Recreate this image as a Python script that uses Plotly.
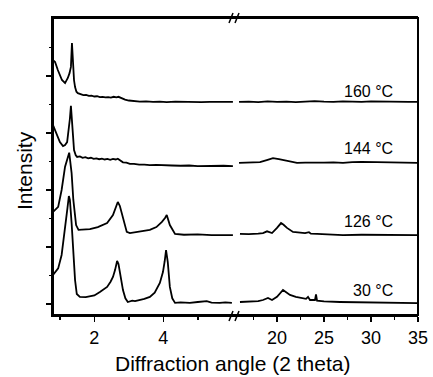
import plotly.graph_objects as go

# ---------------- data (2theta, intensity in offset arbitrary units) ----------------
x30L = [0.80,0.95,1.05,1.15,1.22,1.26,1.29,1.34,1.39,1.44,1.49,1.58,1.75,1.87,2.00,2.16,2.30,2.37,2.47,2.54,
        2.60,2.66,2.70,2.74,2.79,2.83,2.90,2.97,3.10,3.18,3.30,3.45,3.61,3.75,3.90,3.99,4.04,4.08,4.13,4.19,
        4.26,4.34,4.50,4.77,5.00,5.26,5.40,5.64,5.80,5.99]
y30L = [1.02,1.25,1.72,2.60,3.37,3.79,3.65,2.84,1.89,0.84,0.35,0.25,0.24,0.28,0.30,0.42,0.52,0.60,0.78,0.95,
        1.19,1.51,1.40,1.12,0.75,0.49,0.20,0.07,0.12,0.10,0.14,0.18,0.25,0.40,0.74,1.12,1.50,1.89,1.47,0.60,
        0.20,0.04,0.06,0.04,0.07,0.10,0.05,0.04,0.06,0.04]

x126L = [0.81,0.95,1.05,1.15,1.27,1.34,1.39,1.47,1.54,1.70,1.87,2.10,2.37,2.54,2.62,2.68,2.74,2.80,2.89,2.94,
         3.03,3.30,3.61,3.80,3.96,4.05,4.10,4.19,4.34,4.60,5.00,5.40,5.80,6.02]
y126L = [3.24,3.41,4.00,4.82,5.31,4.59,3.65,2.77,2.60,2.61,2.63,2.70,2.84,3.12,3.37,3.58,3.44,3.19,2.77,2.53,
         2.49,2.53,2.60,2.70,2.88,3.02,3.12,2.77,2.46,2.43,2.44,2.42,2.43,2.42]

x144L = [0.80,0.86,0.92,1.00,1.09,1.15,1.21,1.26,1.29,1.32,1.35,1.38,1.41,1.46,1.50,1.58,1.66,1.74,1.82,1.90,
         1.98,2.06,2.14,2.22,2.30,2.38,2.46,2.54,2.62,2.68,2.74,2.83,2.93,3.03,3.15,3.30,3.45,3.61,3.80,4.00,
         4.25,4.50,4.75,5.00,5.25,5.50,5.75,6.02]
y144L = [6.28,6.10,5.93,5.68,5.54,5.58,5.68,6.11,6.50,6.95,6.46,5.90,5.40,5.22,
         5.16,5.18,5.13,5.15,5.11,5.13,5.09,5.11,5.08,5.10,5.07,5.09,5.06,5.09,5.07,5.10,5.05,4.97,4.96,4.92,
         4.92,4.89,4.89,4.87,4.88,4.86,4.86,4.85,4.86,4.84,4.85,4.84,4.85,4.84]

x160L = [0.80,0.86,0.94,1.00,1.06,1.15,1.23,1.28,1.32,1.35,1.38,1.41,1.44,1.48,1.52,1.60,1.68,1.76,1.84,1.92,
         2.00,2.08,2.16,2.24,2.32,2.40,2.48,2.56,2.64,2.70,2.76,2.89,3.00,3.15,3.32,3.50,3.70,3.90,4.10,4.35,
         4.60,4.85,5.10,5.35,5.60,5.85,6.02]
y160L = [8.56,8.49,8.21,8.02,7.86,7.75,7.93,8.10,8.32,9.16,8.32,7.85,7.61,7.45,
         7.40,7.37,7.33,7.34,7.30,7.31,7.28,7.29,7.26,7.27,7.25,7.26,7.24,7.27,7.25,7.27,7.23,7.17,7.14,7.12,
         7.10,7.11,7.09,7.10,7.08,7.10,7.09,7.10,7.08,7.09,7.09,7.10,7.09]

x160R = [15.96,17,18,19,20,21,22,23,24,25,26,27,28,29,30,31,32,33,34,34.95]
y160R = [7.09,7.10,7.08,7.11,7.09,7.10,7.08,7.10,7.12,7.10,7.09,7.11,7.10,7.09,7.11,7.10,7.09,7.10,7.09,7.09]

x144R = [15.96,17,18.19,19.0,19.57,20.2,21.06,22.13,23,24,25,26,27.02,28,29,30.64,32,33,34.95]
y144R = [4.95,4.97,4.98,5.06,5.12,5.08,5.02,4.95,4.96,4.95,4.96,4.97,4.95,4.98,4.99,4.98,4.97,4.96,4.95]

x126R = [16.06,17,18.0,18.51,18.94,19.2,19.47,20.0,20.43,20.7,21.06,21.70,22.3,22.98,23.4,23.6,24.26,25,26,
         27.02,29,31,33,34.95]
y126R = [2.46,2.45,2.47,2.49,2.55,2.52,2.49,2.67,2.84,2.78,2.67,2.53,2.51,2.49,2.52,2.47,2.46,2.45,2.44,
         2.42,2.43,2.42,2.43,2.42]

x30R = [16.06,17,18.0,18.51,19.04,19.47,20.0,20.64,21.0,21.38,22.0,22.45,23.09,23.30,23.51,24.04,24.15,24.26,
        25,26.70,28,30,32,34.95]
y30R = [0.07,0.08,0.10,0.14,0.21,0.14,0.25,0.49,0.42,0.32,0.25,0.21,0.18,0.25,0.14,0.14,0.34,0.12,
        0.09,0.07,0.06,0.05,0.04,0.03]

labels = ["30 °C", "126 °C", "144 °C", "160 °C"]
label_y = [0.46, 2.91, 5.47, 7.44]

left_ticks = [2, 4]
left_minor = [1, 3, 5]
right_ticks = [20, 25, 30, 35]
right_minor = [17.5, 22.5, 27.5, 32.5]
y_major = [0, 2, 4, 6, 8]
y_minor = [1, 3, 5, 7, 9]

# ---------------- figure ----------------
FONT = "Liberation Sans, Arial, Helvetica, sans-serif"
LW = 1.8
fig = go.Figure()
for xs, ys in [(x30L, y30L), (x126L, y126L), (x144L, y144L), (x160L, y160L)]:
    fig.add_trace(go.Scatter(x=xs, y=ys, mode="lines", line=dict(color="black", width=LW),
                             xaxis="x", yaxis="y", showlegend=False, hoverinfo="skip"))
for xs, ys in [(x30R, y30R), (x126R, y126R), (x144R, y144R), (x160R, y160R)]:
    fig.add_trace(go.Scatter(x=xs, y=ys, mode="lines", line=dict(color="black", width=LW),
                             xaxis="x2", yaxis="y", showlegend=False, hoverinfo="skip"))

split = 0.4986
common_x = dict(showgrid=False, zeroline=False, showline=True, linecolor="black", linewidth=2,
                mirror=True, ticks="outside", ticklen=5,
                tickwidth=1.5, tickcolor="black", tickfont=dict(family=FONT, size=18, color="black"),
                anchor="y", fixedrange=True)
fig.update_layout(
    width=433, height=377,
    margin=dict(l=53, r=15, t=18, b=62, autoexpand=False),
    paper_bgcolor="white", plot_bgcolor="white",
    font=dict(family=FONT, color="black"),
    xaxis=dict(domain=[0, split], range=[0.80, 6.08], tickvals=left_ticks,
               ticktext=[str(v) for v in left_ticks],
               minor=dict(tickvals=left_minor, ticks="outside", ticklen=3, tickwidth=1.5, tickcolor="black"),
               **common_x),
    xaxis2=dict(domain=[split, 1], range=[15.53, 35], tickvals=right_ticks,
                ticktext=[str(v) for v in right_ticks],
                minor=dict(tickvals=right_minor, ticks="outside", ticklen=3, tickwidth=1.5, tickcolor="black"),
                **common_x),
    yaxis=dict(range=[-0.386, 10.035], showgrid=False, zeroline=False, showline=True,
               linecolor="black", linewidth=2,
               tickvals=y_major, showticklabels=False, ticks="outside", ticklen=5, tickwidth=1.5,
               tickcolor="black",
               minor=dict(tickvals=y_minor, ticks="outside", ticklen=2, tickwidth=1.5, tickcolor="black"),
               fixedrange=True),
)

# frame
fig.add_shape(type="rect", xref="paper", yref="paper", x0=0, x1=1, y0=0, y1=1,
              line=dict(color="black", width=2), fillcolor="rgba(0,0,0,0)", layer="above")

# axis break marks
def px2paper_x(px):
    return (px - 53) / 365.0

def px2paper_y(py):
    return (315 - py) / 297.0

for base_y in (316, 18):
    for x0 in (229, 235):
        fig.add_shape(type="line", xref="paper", yref="paper",
                      x0=px2paper_x(x0), y0=px2paper_y(base_y + 5),
                      x1=px2paper_x(x0 + 4), y1=px2paper_y(base_y - 5),
                      line=dict(color="black", width=1.5), layer="above")

# temperature labels
for txt, yv in zip(labels, label_y):
    fig.add_annotation(text=txt, xref="x2", yref="y", x=32.55, y=yv, xanchor="right", yanchor="middle",
                       showarrow=False, font=dict(family=FONT, size=16, color="black"))

# axis titles
fig.add_annotation(text="Diffraction angle (2 theta)", xref="paper", yref="paper",
                   x=px2paper_x(232), y=px2paper_y(363), xanchor="center", yanchor="middle",
                   showarrow=False, font=dict(family=FONT, size=21, color="black"))
fig.add_annotation(text="Intensity", xref="paper", yref="paper",
                   x=px2paper_x(24), y=px2paper_y(170), xanchor="center", yanchor="middle",
                   textangle=-90, showarrow=False, font=dict(family=FONT, size=21, color="black"))

fig.write_html("out.html", config={"displayModeBar": False, "staticPlot": True},
               post_script="document.body.style.margin='0';document.body.style.overflow='hidden';")
